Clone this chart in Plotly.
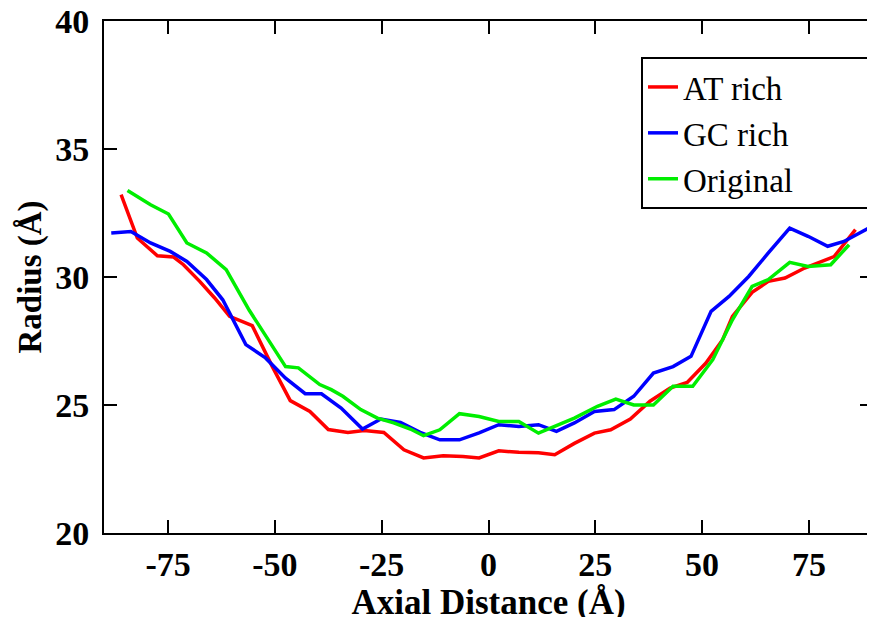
import plotly.graph_objects as go

# ---- data ----
at_x = [-86.0, -82.2, -77.5, -73.7, -71.4, -67.6, -64.1, -60.6, -55.3, -50.6, -46.4, -41.8,
        -37.5, -32.9, -29.1, -24.5, -19.8, -15.2, -10.6, -6.0, -2.2, 2.4, 7.1, 11.7, 15.5,
        20.1, 24.8, 28.6, 33.2, 37.8, 42.5, 46.5, 50.9, 54.8, 57.1, 61.7, 65.5, 69.4, 74.0,
        80.9, 85.9]
at_y = [33.22, 31.52, 30.83, 30.78, 30.48, 29.83, 29.18, 28.46, 28.10, 26.50, 25.17, 24.75,
        24.04, 23.93, 24.00, 23.93, 23.25, 22.93, 23.02, 22.99, 22.93, 23.21, 23.15, 23.13,
        23.06, 23.50, 23.90, 24.03, 24.45, 25.15, 25.66, 25.88, 26.64, 27.55, 28.46, 29.40,
        29.83, 29.96, 30.35, 30.80, 31.85]

gc_x = [-88.3, -83.7, -79.1, -74.5, -70.6, -66.0, -62.2, -56.8, -52.2, -47.5, -42.9, -39.1,
        -34.5, -29.5, -25.2, -20.6, -16.0, -11.4, -6.8, -2.2, 2.4, 7.1, 11.7, 15.9, 20.1,
        24.8, 29.4, 34.0, 38.6, 43.2, 47.4, 52.1, 56.3, 60.9, 65.5, 70.5, 74.8, 79.4, 83.2,
        90.0]
gc_y = [31.72, 31.78, 31.33, 31.00, 30.61, 29.90, 29.11, 27.36, 26.84, 26.05, 25.44, 25.44,
        24.88, 24.06, 24.45, 24.32, 23.93, 23.64, 23.64, 23.91, 24.23, 24.16, 24.23, 23.97,
        24.30, 24.75, 24.82, 25.34, 26.25, 26.50, 26.90, 28.66, 29.24, 30.02, 30.94, 31.91,
        31.59, 31.20, 31.39, 32.00]

orig_x = [-84.5, -79.1, -74.9, -70.6, -66.0, -61.4, -56.0, -47.5, -44.5, -39.5, -36.8, -34.1,
          -29.9, -26.0, -22.2, -18.3, -15.2, -11.4, -6.8, -2.2, 2.4, 7.1, 11.7, 15.5, 20.1,
          25.5, 29.8, 34.0, 38.6, 43.2, 47.8, 52.5, 57.1, 61.7, 65.5, 70.5, 74.8, 80.1, 84.4]
orig_y = [33.38, 32.82, 32.46, 31.33, 30.94, 30.29, 28.70, 26.50, 26.45, 25.80, 25.60, 25.34,
          24.82, 24.49, 24.30, 24.06, 23.80, 24.03, 24.66, 24.55, 24.36, 24.36, 23.90, 24.16,
          24.49, 24.95, 25.23, 25.00, 25.00, 25.73, 25.73, 26.77, 28.33, 29.63, 29.90, 30.57,
          30.41, 30.48, 31.26]

series_names = ["AT rich", "GC rich", "Original"]
series_colors = ["#ff0000", "#0000ff", "#00ee00"]

x_range = [-90, 90]
y_range = [20, 40]
x_tickvals = [-75, -50, -25, 0, 25, 50, 75]
x_ticktext = ["-75", "-50", "-25", "0", "25", "50", "75"]
y_tickvals = [20, 25, 30, 35, 40]
y_ticktext = ["20", "25", "30", "35", "40"]

serif = "Liberation Serif, Times New Roman, Times, serif"

W, H = 875, 617
ML, MR, MT, MB = 96, 0, 13, 92
PW, PH = W - ML - MR, H - MT - MB

PAD = "\u00a0" * 10

fig = go.Figure()
for xs, ys, name, col in zip([at_x, gc_x, orig_x], [at_y, gc_y, orig_y], series_names, series_colors):
    fig.add_trace(go.Scatter(x=xs, y=ys, mode="lines", name=name + PAD,
                             line=dict(color=col, width=3.5)))

tick_common = dict(ticks="inside", ticklen=13, tickwidth=2, tickcolor="black",
                   showline=True, linecolor="black", linewidth=2, mirror="ticks",
                   showgrid=False, zeroline=False, automargin=False)

fig.update_layout(
    width=W, height=H,
    margin=dict(l=ML, r=MR, t=MT, b=MB, pad=0),
    paper_bgcolor="white", plot_bgcolor="white",
    font=dict(family=serif, color="black"),
    showlegend=True,
    legend=dict(x=(640 - ML) / PW, y=(MT + PH - 49) / PH, xanchor="left", yanchor="top",
                bgcolor="white", bordercolor="black", borderwidth=2,
                font=dict(family=serif, size=33, color="black")),
    xaxis=dict(range=x_range, tickvals=x_tickvals, ticktext=x_ticktext,
               ticklabeloverflow="allow",
               tickfont=dict(family=serif, size=34, weight="bold", color="black"),
               ticklabelstandoff=0,
               title=dict(text="Axial Distance (Å)", standoff=2,
                          font=dict(family=serif, size=35, weight="bold", color="black")),
               **tick_common),
    yaxis=dict(range=y_range, tickvals=y_tickvals, ticktext=y_ticktext,
               ticklabeloverflow="allow",
               tickfont=dict(family=serif, size=34, weight="bold", color="black"),
               ticklabelstandoff=6,
               title=dict(text="Radius (Å)", standoff=4,
                          font=dict(family=serif, size=33, weight="bold", color="black")),
               **tick_common),
)

fig.write_html("out.html")
